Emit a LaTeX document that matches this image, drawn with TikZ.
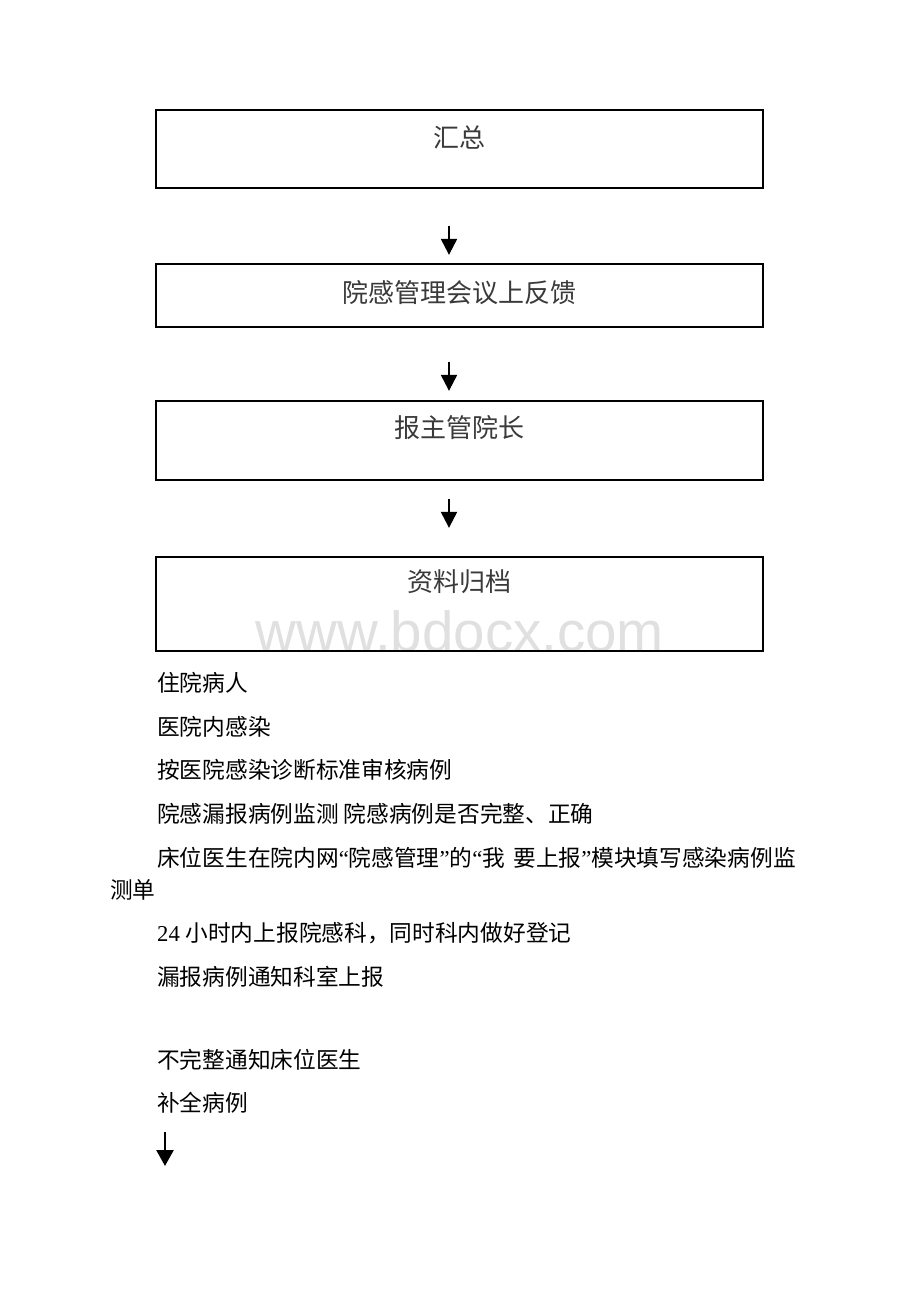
\documentclass[tikz,border=0pt]{standalone}
\usepackage{fontspec}
\setmainfont{Liberation Serif}
\newfontfamily\cjk{Noto Sans CJK SC}
\newfontfamily\wmfont{Liberation Sans}
\usetikzlibrary{arrows.meta}
\definecolor{boxtext}{HTML}{3A3A3A}
\definecolor{wmgray}{HTML}{E0E0E0}
\newcommand\myql{{\rmfamily “}}
\newcommand\myqr{{\rmfamily ”}}
\begin{document}
\begin{tikzpicture}[x=1pt,y=-1pt,
  boxstyle/.style={draw=black,line width=2.3pt,minimum width=607pt,inner sep=0pt},
  boxlabel/.style={font=\cjk\fontsize{26}{30}\selectfont,text=boxtext,inner sep=0pt},
  body/.style={font=\cjk\fontsize{22.7}{27}\selectfont,anchor=west,inner sep=0pt},
  arr/.style={line width=2.2pt,-{Triangle[width=16pt,length=16pt]}},
  arrb/.style={line width=2.6pt,-{Triangle[width=17pt,length=16pt]}}]
\useasboundingbox[fill=white] (0,0) rectangle (920,1302);

% watermark
\node[font=\wmfont\fontsize{56.5}{60}\selectfont,text=wmgray,inner sep=0pt] (wm) at (460,631) {www.bdocx.com};

% boxes
\node[boxstyle,minimum height=78pt] (b1) at (459.5,149) {};
\node[boxstyle,minimum height=63pt] (b2) at (459.5,295.5) {};
\node[boxstyle,minimum height=79pt] (b3) at (459.5,440.5) {};
\node[boxstyle,minimum height=94pt] (b4) at (459.5,604) {};

\node[boxlabel] (l1) at (459.5,137) {汇总};
\node[boxlabel] (l2) at (459.5,293) {院感管理会议上反馈};
\node[boxlabel] (l3) at (459.5,428) {报主管院长};
\node[boxlabel] (l4) at (459.5,582) {资料归档};

% arrows between boxes
\draw[arr] ([xshift=-10.5pt,yshift=-37pt]b1.south) -- ([xshift=-10.5pt,yshift=8pt]b2.north);
\draw[arr] ([xshift=-10.5pt,yshift=-34pt]b2.south) -- ([xshift=-10.5pt,yshift=9pt]b3.north);
\draw[arr] ([xshift=-10.5pt,yshift=-18pt]b3.south) -- ([xshift=-10.5pt,yshift=28pt]b4.north);

% body text
\node[body] (t1) at (157,683) {住院病人};
\node[body] (t2) at (157,727) {医院内感染};
\node[body] (t3) at (157,770) {按医院感染诊断标准审核病例};
\node[body] (t4) at (157,814) {院感漏报病例监测 院感病例是否完整、正确};
\node[body] (t5) at (157,858) {床位医生在院内网\myql 院感管理\myqr 的\myql 我\hspace{3pt} 要上报\myqr 模块填写感染病例监};
\node[body] (t6) at (110,890) {测单};
\node[body] (t7) at (157,933) {{\rmfamily 24 }小时内上报院感科，同时科内做好登记};
\node[body] (t8) at (157,977) {漏报病例通知科室上报};
\node[body] (t9) at (157,1060) {不完整通知床位医生};
\node[body] (t10) at (157,1103) {补全病例};

\coordinate (e1) at (165,1166);
\draw[arrb] ([xshift=8pt,yshift=-18pt]t10.south west) -- (e1);
\end{tikzpicture}
\end{document}
